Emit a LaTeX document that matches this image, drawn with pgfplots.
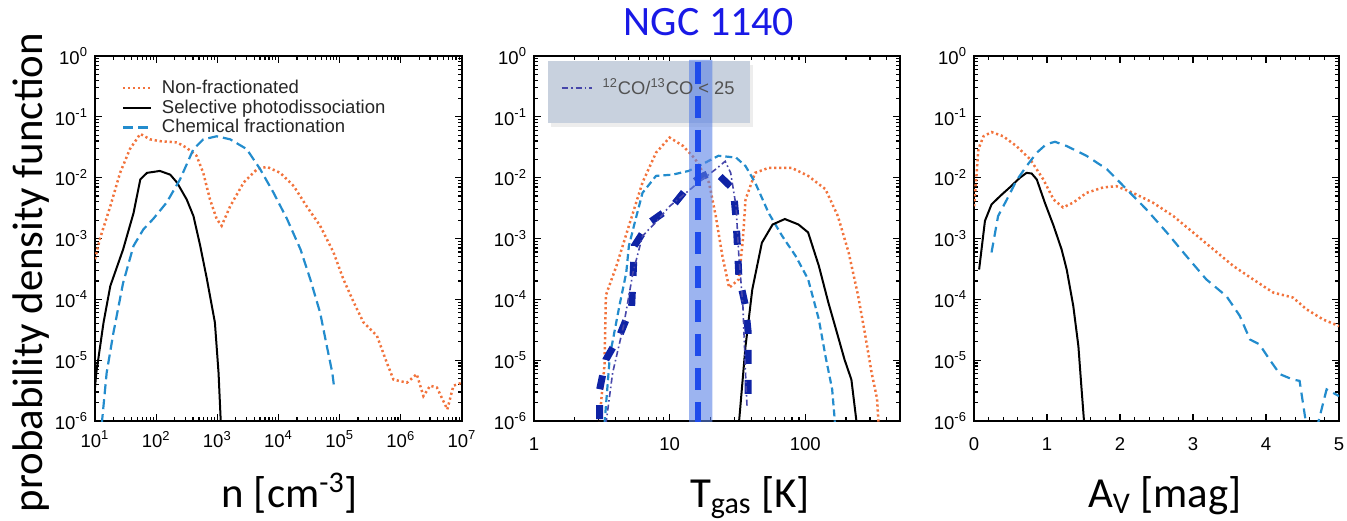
\documentclass[border=0pt]{standalone}
\usepackage{fontspec}
\setmainfont{Liberation Sans}
\newfontfamily\calibri{Carlito}
\usepackage{pgfplots}
\pgfplotsset{compat=1.18}
\definecolor{orangec}{RGB}{242,115,60}
\definecolor{bluec}{RGB}{35,140,205}
\definecolor{dashdotc}{RGB}{70,70,170}
\definecolor{thickc}{RGB}{15,35,165}
\definecolor{centerc}{RGB}{30,75,235}
\definecolor{bandc}{RGB}{90,130,230}
\definecolor{legboxc}{RGB}{200,209,222}
\definecolor{titlec}{RGB}{25,25,230}
\tikzset{
  orangeline/.style={orangec, line width=1.25bp, dash pattern=on 1.1bp off 1.4bp},
  blackline/.style={black, line width=1bp},
  blueline/.style={bluec, line width=1.1bp, dash pattern=on 5bp off 2.5bp},
}
\pgfplotsset{
  every axis/.append style={
    scale only axis, height=182.5bp,
    tick align=inside, tick pos=both,
    major tick length=3.5bp, minor tick length=1.8bp,
    axis line style={line width=1.1bp},
    tick label style={font=\fontsize{9.3}{10}\selectfont},
    label style={font=\calibri\fontsize{21.5}{25}\selectfont},
  },
  every tick/.style={black, line width=0.6bp},
  myimg/.style={legend image code/.code={\draw[##1] (0bp,0bp) -- (14bp,0bp); \path (18bp,0bp);}},
  myimgb/.style={legend image code/.code={\draw[##1] (0bp,0bp) -- (15bp,0bp); \path (19bp,0bp);}},
}
\begin{document}
\begin{tikzpicture}
\useasboundingbox (0,0) rectangle (673.5bp,260.5bp);
% ---------------- Panel 1: density ----------------
\begin{axis}[at={(47.5bp,50bp)}, anchor=south west, width=183.5bp,
  ymode=log, ymin=1e-6, ymax=1,
  ytick={1e-6,1e-5,1e-4,1e-3,1e-2,1e-1,1},
  yticklabels={10\textsuperscript{-6},10\textsuperscript{-5},10\textsuperscript{-4},10\textsuperscript{-3},10\textsuperscript{-2},10\textsuperscript{-1},10\textsuperscript{0}},
  minor ytick={2e-6,3e-6,4e-6,5e-6,6e-6,7e-6,8e-6,9e-6,2e-5,3e-5,4e-5,5e-5,6e-5,7e-5,8e-5,9e-5,2e-4,3e-4,4e-4,5e-4,6e-4,7e-4,8e-4,9e-4,2e-3,3e-3,4e-3,5e-3,6e-3,7e-3,8e-3,9e-3,0.02,0.03,0.04,0.05,0.06,0.07,0.08,0.09,0.2,0.3,0.4,0.5,0.6,0.7,0.8,0.9},
  xmode=log, xmin=10, xmax=1e7,
  xtick={1e1,1e2,1e3,1e4,1e5,1e6,1e7},
  xticklabels={10\textsuperscript{1},10\textsuperscript{2},10\textsuperscript{3},10\textsuperscript{4},10\textsuperscript{5},10\textsuperscript{6},10\textsuperscript{7}},
  minor xtick={20,30,40,50,60,70,80,90,200,300,400,500,600,700,800,900,2000,3000,4000,5000,6000,7000,8000,9000,2e4,3e4,4e4,5e4,6e4,7e4,8e4,9e4,2e5,3e5,4e5,5e5,6e5,7e5,8e5,9e5,2e6,3e6,4e6,5e6,6e6,7e6,8e6,9e6},
  xticklabel style={yshift=-1.5bp},
  xlabel={n [cm\textsuperscript{-3}]},
  xlabel style={at={(axis description cs:0.531,-0.236)}, anchor=base},
  ylabel={probability density function},
  ylabel style={at={(axis description cs:-0.1444,0.407)}, anchor=base},
  legend cell align=left,
  legend style={at={(axis description cs:0.072,0.858)}, anchor=west, draw=none, fill=none,
    font=\fontsize{9.3}{11}\selectfont, text=black!85, inner sep=0pt,
    nodes={inner sep=0.8bp}},
  myimg,
]
\addplot[orangeline] coordinates {
(10,4.57e-4) (12.0,9.8e-4) (17.8,3.39e-3) (25.7,1.20e-2) (37.2,2.95e-2) (55.0,5.25e-2)
(79.4,4.27e-2) (115,3.98e-2) (219,3.80e-2) (316,3.09e-2) (457,2.29e-2) (589,1.20e-2)
(759,4.37e-3) (977,2.09e-3) (1175,1.62e-3) (1622,3.39e-3) (2692,8.32e-3) (4467,1.38e-2)
(6457,1.51e-2) (1.07e4,1.20e-2) (1.78e4,7.24e-3) (2.88e4,3.39e-3) (4.79e4,1.62e-3)
(7.94e4,5.89e-4) (1.15e5,2.14e-4) (1.70e5,8.91e-5) (2.45e5,4.17e-5) (4.07e5,2.51e-5)
(5.89e5,9.12e-6) (7.59e5,4.79e-6) (1.26e6,4.27e-6) (1.82e6,5.89e-6) (2.34e6,2.57e-6)
(3.02e6,3.80e-6) (3.89e6,3.55e-6) (5.75e6,1.55e-6) (7.24e6,3.80e-6) (1e7,4.27e-6)};
\addlegendentry{Non-fractionated}
\addplot[blackline] coordinates {
(10,3.55e-6) (10.5,6.17e-6) (13.8,4.17e-5) (17.8,1.66e-4) (28.8,6.61e-4) (42.7,2.63e-3)
(55.0,9.33e-3) (70.8,1.20e-2) (115,1.29e-2) (170,1.12e-2) (219,8.32e-3) (316,4.37e-3)
(407,2.34e-3) (525,7.59e-4) (676,2.14e-4) (912,4.17e-5) (1047,6.17e-6) (1148,7.94e-7)};
\addlegendentry{Selective photodissociation}
\addplot[blueline] coordinates {
(12.9,8.9e-7) (15.5,6.17e-6) (20.0,2.82e-5) (28.8,1.86e-4) (42.7,7.59e-4) (61.7,1.41e-3)
(89.1,2.09e-3) (148,3.89e-3) (245,9.33e-3) (407,2.95e-2) (589,4.27e-2) (977,4.79e-2)
(1622,4.27e-2) (3020,2.95e-2) (5012,1.38e-2) (8318,5.62e-3) (1.38e4,2.09e-3)
(2.29e4,6.61e-4) (3.31e4,2.14e-4) (4.79e4,6.03e-5) (6.17e4,1.70e-5) (7.59e4,6.17e-6)
(8.13e4,3.55e-6)};
\addlegendentry{Chemical fractionation}
\end{axis}
% ---------------- Panel 2: temperature ----------------
\begin{axis}[at={(267bp,50bp)}, anchor=south west, width=183bp,
  ymode=log, ymin=1e-6, ymax=1,
  ytick={1e-6,1e-5,1e-4,1e-3,1e-2,1e-1,1},
  yticklabels={10\textsuperscript{-6},10\textsuperscript{-5},10\textsuperscript{-4},10\textsuperscript{-3},10\textsuperscript{-2},10\textsuperscript{-1},10\textsuperscript{0}},
  minor ytick={2e-6,3e-6,4e-6,5e-6,6e-6,7e-6,8e-6,9e-6,2e-5,3e-5,4e-5,5e-5,6e-5,7e-5,8e-5,9e-5,2e-4,3e-4,4e-4,5e-4,6e-4,7e-4,8e-4,9e-4,2e-3,3e-3,4e-3,5e-3,6e-3,7e-3,8e-3,9e-3,0.02,0.03,0.04,0.05,0.06,0.07,0.08,0.09,0.2,0.3,0.4,0.5,0.6,0.7,0.8,0.9},
  xmode=log, xmin=1, xmax=500,
  xtick={1,10,100}, xticklabels={1,10,100},
  minor xtick={2,3,4,5,6,7,8,9,20,30,40,50,60,70,80,90,200,300,400},
  xticklabel style={yshift=-5bp},
  xlabel={T\textsubscript{gas} [K]},
  xlabel style={at={(axis description cs:0.590,-0.236)}, anchor=base},
  title={NGC 1140},
  title style={at={(axis description cs:0.478,1.055)}, anchor=base, yshift=-6pt, color=titlec,
    font=\calibri\fontsize{21}{25}\selectfont},
  legend cell align=left,
  legend style={at={(axis description cs:0.073,0.912)}, anchor=west, draw=none, fill=none,
    font=\fontsize{9.2}{11}\selectfont, text=black!68, inner sep=0pt,
    nodes={inner sep=1bp}},
  myimgb,
]
\fill[black, opacity=0.07] (axis description cs:0.046,0.976) rectangle (axis description cs:0.598,0.806);
\fill[legboxc] (axis description cs:0.038,0.986) rectangle (axis description cs:0.590,0.816);
\addplot[orangeline, forget plot] coordinates {
(3.02,8.9e-7) (3.31,8.32e-6) (3.39,1.17e-4) (4.07,3.63e-4) (5.01,1.62e-3) (6.31,8.32e-3)
(7.94,2.57e-2) (10.0,4.57e-2) (12.6,3.31e-2) (15.5,2.00e-2) (19.5,8.32e-3) (21.9,2.34e-3)
(24.5,5.13e-4) (27.5,1.55e-4) (32.4,2.14e-4) (34.7,9.77e-4) (36.3,4.37e-3) (42.7,1.20e-2)
(53.7,1.45e-2) (79.4,1.45e-2) (105,1.07e-2) (141,6.46e-3) (174,2.34e-3) (209,5.89e-4)
(245,1.17e-4) (275,2.82e-5) (309,6.17e-6) (339,2.29e-6) (347,8.9e-7)};
\addplot[blueline, dash pattern=on 3.5bp off 2bp, forget plot] coordinates {
(3.31,8.9e-7) (3.63,1.20e-5) (4.27,7.94e-5) (4.79,2.75e-4) (5.01,7.59e-4) (5.62,2.09e-3)
(6.31,5.62e-3) (7.94,1.07e-2) (10.5,1.12e-2) (13.8,1.29e-2) (17.4,1.66e-2) (22.9,2.29e-2)
(30.9,2.14e-2) (36.3,1.55e-2) (42.7,8.32e-3) (53.7,2.63e-3) (67.6,1.10e-3) (85.1,5.13e-4)
(105,2.14e-4) (126,4.68e-5) (141,1.17e-5) (158,3.31e-6) (166,8.9e-7)};
\addplot[blackline, forget plot] coordinates {
(32.4,8.9e-7) (36.3,1.70e-5) (40.7,1.45e-4) (47.9,8.51e-4) (57.5,1.70e-3) (70.8,2.09e-3)
(89.1,1.70e-3) (105,1.26e-3) (126,3.55e-4) (148,8.91e-5) (174,2.51e-5) (195,1.02e-5)
(219,4.79e-6) (240,8.9e-7)};
\addplot[thickc, line width=3.5bp, dash pattern=on 7bp off 8bp, forget plot] coordinates {
(3.05,1.07e-6) (3.05,3.31e-6) (3.39,1.02e-5) (4.27,2.51e-5) (5.25,7.76e-5) (5.37,2.29e-4)
(5.50,7.59e-4) (7.08,1.82e-3) (10.5,3.39e-3) (13.8,7.24e-3) (16.6,1.00e-2) (21.4,1.29e-2)
(29.5,6.46e-3) (30.9,2.09e-3) (31.6,7.59e-4) (32.4,2.40e-4) (36.3,7.76e-5) (38.0,2.82e-5)
(38.0,9.12e-6) (38.0,2.29e-6)};
\addplot[dashdotc, line width=0.8bp, dash pattern=on 3bp off 1.5bp on 0.8bp off 1.5bp] coordinates {
(3.39,8.9e-7) (3.80,6.17e-6) (4.57,3.63e-5) (5.37,2.75e-4) (6.31,1.10e-3) (7.94,1.86e-3)
(10.0,3.39e-3) (13.2,5.62e-3) (17.4,9.33e-3) (21.9,1.38e-2) (25.7,1.86e-2) (28.2,1.20e-2)
(30.9,3.39e-3) (32.4,5.13e-4) (34.7,7.94e-5) (36.3,6.17e-6) (37.2,1.78e-6)};
\addlegendentry{\textsuperscript{12}CO/\textsuperscript{13}CO < 25}
\addplot[fill=bandc, fill opacity=0.6, draw=none, forget plot] coordinates {
(13.9,1e-7) (20.7,1e-7) (20.7,0.86) (13.9,0.86) (13.9,1e-7)};
\addplot[centerc, line width=3bp, dash pattern=on 11bp off 6bp, forget plot] coordinates {
(16.3,0.8) (16.3,1e-7)};
\end{axis}
% ---------------- Panel 3: extinction ----------------
\begin{axis}[at={(487bp,50bp)}, anchor=south west, width=182.5bp,
  ymode=log, ymin=1e-6, ymax=1,
  ytick={1e-6,1e-5,1e-4,1e-3,1e-2,1e-1,1},
  yticklabels={10\textsuperscript{-6},10\textsuperscript{-5},10\textsuperscript{-4},10\textsuperscript{-3},10\textsuperscript{-2},10\textsuperscript{-1},10\textsuperscript{0}},
  minor ytick={2e-6,3e-6,4e-6,5e-6,6e-6,7e-6,8e-6,9e-6,2e-5,3e-5,4e-5,5e-5,6e-5,7e-5,8e-5,9e-5,2e-4,3e-4,4e-4,5e-4,6e-4,7e-4,8e-4,9e-4,2e-3,3e-3,4e-3,5e-3,6e-3,7e-3,8e-3,9e-3,0.02,0.03,0.04,0.05,0.06,0.07,0.08,0.09,0.2,0.3,0.4,0.5,0.6,0.7,0.8,0.9},
  xmin=0, xmax=5, xtick={0,1,2,3,4,5}, xticklabels={0,1,2,3,4,5},
  minor x tick num=4,
  xticklabel style={yshift=-5bp},
  xlabel={A\textsubscript{V} [mag]},
  xlabel style={at={(axis description cs:0.523,-0.236)}, anchor=base},
]
\addplot[orangeline] coordinates {
(0.00,3.39e-3) (0.03,9.33e-3) (0.06,2.95e-2) (0.13,4.79e-2) (0.24,5.62e-2) (0.40,4.79e-2)
(0.58,3.31e-2) (0.77,2.00e-2) (0.95,9.33e-3) (1.09,4.37e-3) (1.22,3.24e-3) (1.36,3.89e-3)
(1.54,5.62e-3) (1.77,6.92e-3) (1.95,7.24e-3) (2.18,5.62e-3) (2.45,3.89e-3) (2.73,2.34e-3)
(3.00,1.26e-3) (3.28,6.61e-4) (3.55,3.55e-4) (3.82,2.14e-4) (4.10,1.29e-4) (4.37,1.07e-4)
(4.55,6.92e-5) (4.78,4.68e-5) (5.00,3.63e-5)};
\addplot[blackline] coordinates {
(0.07,3.09e-4) (0.15,1.95e-3) (0.24,3.63e-3) (0.36,5.01e-3) (0.49,6.92e-3) (0.63,1.00e-2)
(0.72,1.20e-2) (0.79,1.17e-2) (0.86,9.33e-3) (0.97,3.89e-3) (1.09,1.62e-3) (1.20,6.61e-4)
(1.27,3.09e-4) (1.36,7.76e-5) (1.43,1.70e-5) (1.47,3.80e-6) (1.51,8.9e-7)};
\addplot[blueline, dash pattern=on 5bp off 3bp] coordinates {
(0.24,5.89e-4) (0.33,2.34e-3) (0.45,4.37e-3) (0.58,8.91e-3) (0.72,1.55e-2) (0.86,2.57e-2)
(0.99,3.55e-2) (1.11,3.89e-2) (1.27,3.31e-2) (1.54,2.29e-2) (1.82,1.38e-2) (2.09,6.46e-3)
(2.36,3.02e-3) (2.64,1.26e-3) (2.91,5.13e-4) (3.18,2.14e-4) (3.46,1.12e-4) (3.64,5.37e-5)
(3.78,2.19e-5) (3.91,1.82e-5) (4.05,1.02e-5) (4.19,5.89e-6) (4.37,4.79e-6) (4.46,4.57e-6)
(4.55,8.9e-7) (4.60,5e-7) (4.68,5e-7) (4.71,8.9e-7) (4.83,3.31e-6) (5.00,2.57e-6)};
\end{axis}
\end{tikzpicture}
\end{document}
